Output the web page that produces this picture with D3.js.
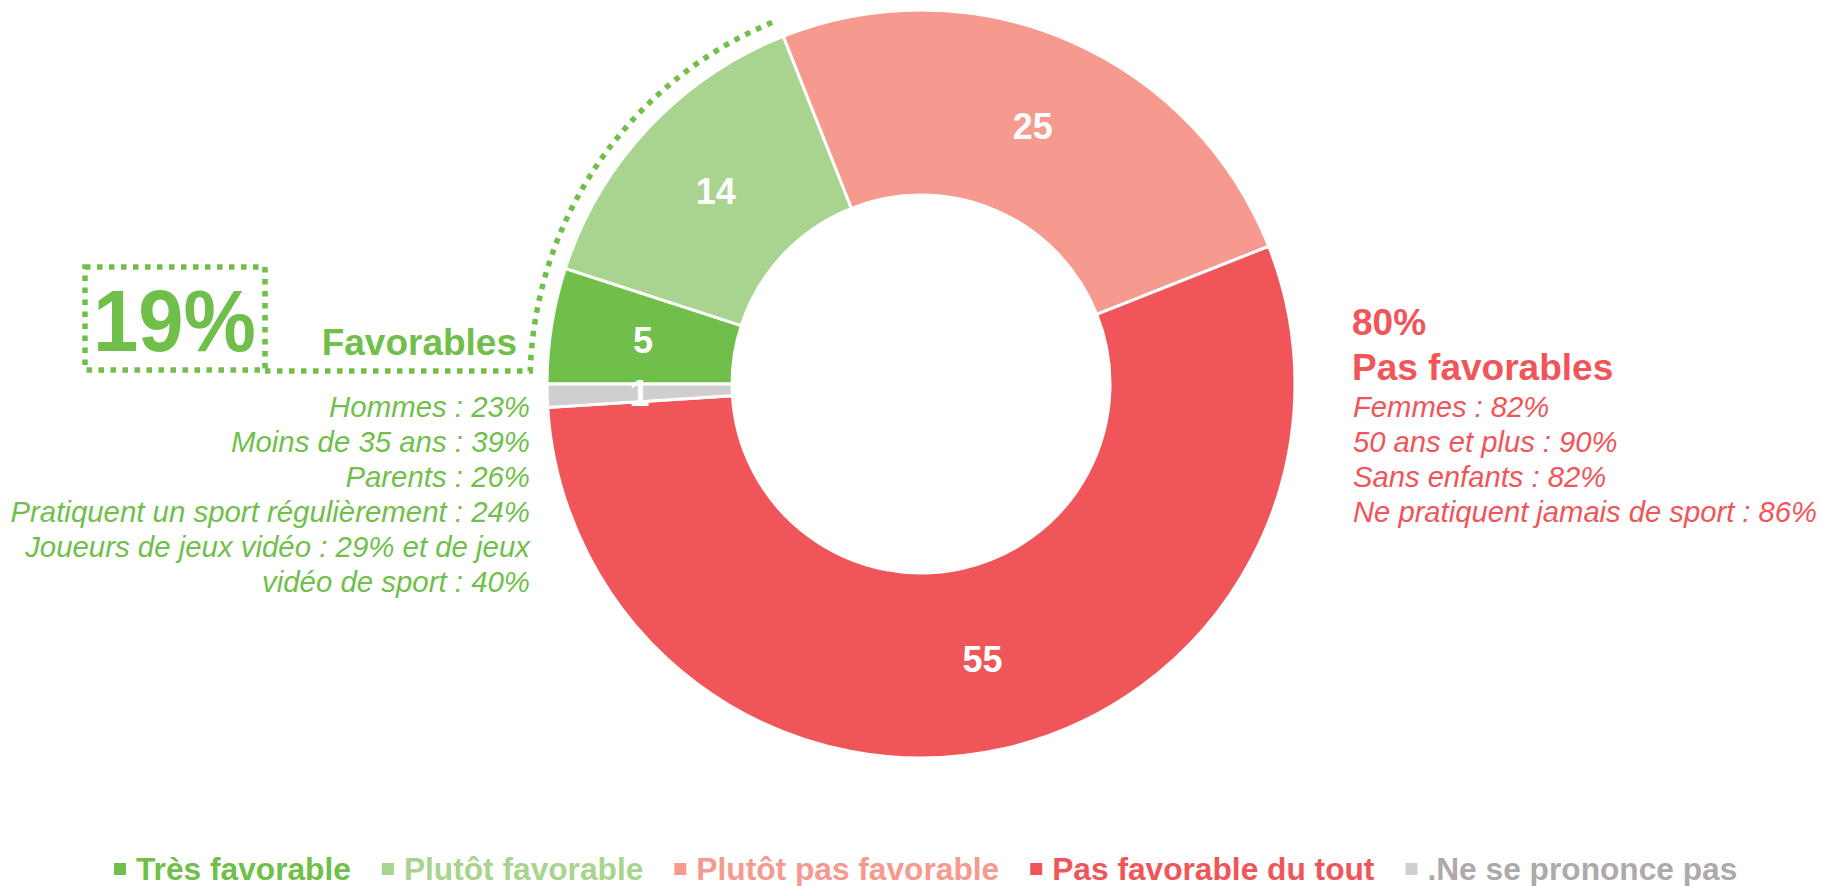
<!DOCTYPE html>
<html>
<head>
<meta charset="utf-8">
<title>Favorables / Pas favorables</title>
<script src="https://cdnjs.cloudflare.com/ajax/libs/d3/7.8.5/d3.min.js"></script>
<style>
  html, body { margin: 0; padding: 0; background: #fff; }
  svg { display: block; font-family: "Liberation Sans", Arial, sans-serif; }
</style>
</head>
<body>
<svg id="chart" width="1822" height="886"></svg>
<script>
// data
var categories = ["Très favorable", "Plutôt favorable", "Plutôt pas favorable", "Pas favorable du tout", ".Ne se prononce pas"];
var values = [5, 14, 25, 55, 1];
var favTotal = "19%";
var favLabel = "Favorables";
var favLines = ["Hommes : 23%", "Moins de 35 ans : 39%", "Parents : 26%",
  "Pratiquent un sport régulièrement : 24%", "Joueurs de jeux vidéo : 29% et de jeux", "vidéo de sport : 40%"];
var pasFavTotal = "80%";
var pasFavLabel = "Pas favorables";
var pasFavLines = ["Femmes : 82%", "50 ans et plus : 90%", "Sans enfants : 82%", "Ne pratiquent jamais de sport : 86%"];

// styles
var sliceColors = ["#71BF4B", "#A9D48F", "#F6998E", "#F0555A", "#D0CECE"];
var legendText = ["#71BF4B", "#A9D48F", "#F6998E", "#F0555A", "#AEAAAA"];
var green = "#71BF4B", red = "#F0555A";

var svg = d3.select("#chart");
var cx = 921, cy = 384, rOut = 374, rIn = 189;

var pie = d3.pie().sort(null).startAngle(-Math.PI / 2).endAngle(3 * Math.PI / 2);
var arcs = pie(values);
var arc = d3.arc().innerRadius(rIn).outerRadius(rOut);

var g = svg.append("g").attr("transform", "translate(" + cx + "," + cy + ")");

g.selectAll("path.slice")
  .data(arcs)
  .enter().append("path")
  .attr("class", "slice")
  .attr("d", arc)
  .attr("fill", function(d, i){ return sliceColors[i]; })
  .attr("stroke", "#fff")
  .attr("stroke-width", 3);

g.selectAll("text.val")
  .data(arcs)
  .enter().append("text")
  .attr("class", "val")
  .attr("transform", function(d){ return "translate(" + arc.centroid(d) + ")"; })
  .attr("text-anchor", "middle")
  .attr("dy", "0.36em")
  .attr("fill", "#fff")
  .attr("font-weight", "bold")
  .attr("font-size", "36px")
  .text(function(d){ return d.data; });

// dotted bracket round the favourable slices
var rDot = 391, yLine = 371;
var th0 = Math.PI + Math.asin((cy - yLine) / rDot);
var th1 = arcs[1].endAngle - Math.PI / 2 + 2 * Math.PI;
var p = d3.path();
p.moveTo(265, yLine);
p.lineTo(cx + rDot * Math.cos(th0), yLine);
p.arc(cx, cy, rDot, th0, th1, false);
svg.append("path")
  .attr("d", p.toString())
  .attr("fill", "none")
  .attr("stroke", green)
  .attr("stroke-width", 5.5)
  .attr("stroke-dasharray", "5.5,6.5");

svg.append("rect")
  .attr("x", 85).attr("y", 267)
  .attr("width", 180).attr("height", 103)
  .attr("fill", "none")
  .attr("stroke", green)
  .attr("stroke-width", 5.5)
  .attr("stroke-dasharray", "5.5,6.5");

svg.append("text")
  .attr("x", 93).attr("y", 351)
  .attr("fill", green)
  .attr("font-weight", "bold")
  .attr("font-size", "87px")
  .attr("textLength", 163)
  .attr("lengthAdjust", "spacingAndGlyphs")
  .text(favTotal);

svg.append("text")
  .attr("x", 517).attr("y", 355)
  .attr("text-anchor", "end")
  .attr("fill", green)
  .attr("font-weight", "bold")
  .attr("font-size", "37px")
  .text(favLabel);

svg.append("g").selectAll("text")
  .data(favLines)
  .enter().append("text")
  .attr("x", 530)
  .attr("y", function(d, i){ return 417 + i * 35; })
  .attr("text-anchor", "end")
  .attr("fill", green)
  .attr("font-style", "italic")
  .attr("font-size", "29.4px")
  .text(function(d){ return d; });

// right annotation
svg.append("text")
  .attr("x", 1352).attr("y", 335)
  .attr("fill", red)
  .attr("font-weight", "bold")
  .attr("font-size", "37px")
  .text(pasFavTotal);

svg.append("text")
  .attr("x", 1352).attr("y", 380)
  .attr("fill", red)
  .attr("font-weight", "bold")
  .attr("font-size", "37px")
  .text(pasFavLabel);

svg.append("g").selectAll("text")
  .data(pasFavLines)
  .enter().append("text")
  .attr("x", 1353)
  .attr("y", function(d, i){ return 417 + i * 35; })
  .attr("fill", red)
  .attr("font-style", "italic")
  .attr("font-size", "29.2px")
  .text(function(d){ return d; });

// legend
var legend = svg.append("g").attr("class", "legend");
var lx = 114;
categories.forEach(function(c, i){
  legend.append("rect")
    .attr("x", lx).attr("y", 863)
    .attr("width", 12).attr("height", 12)
    .attr("fill", sliceColors[i]);
  var t = legend.append("text")
    .attr("x", lx + 22).attr("y", 880)
    .attr("fill", legendText[i])
    .attr("font-weight", "bold")
    .attr("font-size", "31.7px")
    .text(c);
  lx += 22 + t.node().getComputedTextLength() + 31;
});
</script>
</body>
</html>
